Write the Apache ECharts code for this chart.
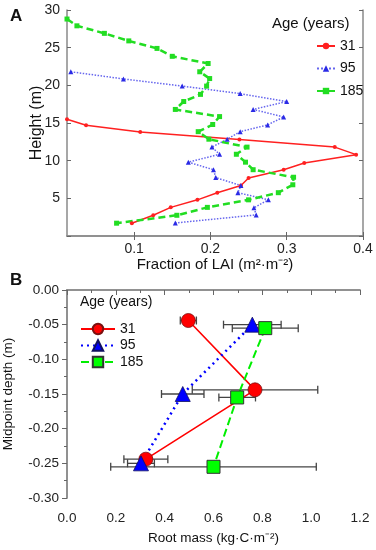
<!DOCTYPE html>
<html><head><meta charset="utf-8">
<script src="https://cdn.jsdelivr.net/npm/echarts@6/dist/echarts.min.js"></script>
<style>html,body{margin:0;padding:0;background:#fff}#c{width:376px;height:550px}</style>
</head><body><div id="c"></div>
<script>
// Panel A: LAI fraction profiles
const heights31 = [15.5,14.7,13.8,12.8,11.8,10.8,9.7,8.8,7.7,6.7,5.75,4.8,3.8,2.75,1.7];
const lai31 = [0.012,0.037,0.108,0.238,0.363,0.391,0.323,0.296,0.250,0.240,0.209,0.183,0.148,0.125,0.097];
const heights95 = [21.8,20.85,19.9,18.9,17.85,16.8,15.8,14.75,13.85,12.85,11.8,10.85,9.8,8.8,7.75,6.7,5.75,4.8,3.75,2.8,1.73];
const lai95 = [0.017,0.086,0.163,0.239,0.300,0.256,0.296,0.275,0.239,0.222,0.202,0.212,0.171,0.204,0.207,0.240,0.236,0.276,0.257,0.260,0.154];
const heights185 = [28.8,27.9,26.9,25.9,24.9,23.85,22.9,21.8,20.9,19.9,18.8,17.85,16.8,15.85,14.8,13.85,12.85,11.8,10.85,9.8,8.8,7.8,6.8,5.75,4.8,3.8,2.75,1.7];
const lai185 = [0.012,0.025,0.061,0.093,0.130,0.150,0.197,0.186,0.199,0.195,0.187,0.165,0.154,0.212,0.203,0.184,0.198,0.248,0.234,0.246,0.256,0.309,0.308,0.289,0.250,0.196,0.156,0.077];
const ticksA_x = [0.1,0.2,0.3,0.4];

// Panel B: root mass by depth
const depth31 = [-0.044,-0.144,-0.244];
const mass31 = [0.497,0.770,0.323];
const err31 = [0.033,0.257,0.090];
const depth95 = [-0.05,-0.15,-0.25];
const mass95 = [0.759,0.474,0.303];
const err95 = [0.118,0.087,0.055];
const depth185 = [-0.055,-0.155,-0.255];
const mass185 = [0.812,0.697,0.600];
const err185 = [0.135,0.075,0.421];

const ages = ['31','95','185'];

const zip = (xs, ys) => xs.map((x,i)=>[x, ys[i]]);
const errData = (m, d, e) => m.map((v,i)=>[v - e[i], v + e[i], d[i]]);

const FONT = 'Liberation Sans, Arial, sans-serif';
const frame = {lineStyle:{color:'#8a8a8a', width:1.5}};

const chart = echarts.init(document.getElementById('c'));

function errRender(params, api){
  const lo = api.coord([api.value(0), api.value(2)]);
  const hi = api.coord([api.value(1), api.value(2)]);
  const h = 4;
  const st = {stroke:'#444', lineWidth:1.3};
  return {type:'group', children:[
    {type:'line', shape:{x1:lo[0], y1:lo[1], x2:hi[0], y2:hi[1]}, style:st},
    {type:'line', shape:{x1:lo[0], y1:lo[1]-h, x2:lo[0], y2:lo[1]+h}, style:st},
    {type:'line', shape:{x1:hi[0], y1:hi[1]-h, x2:hi[0], y2:hi[1]+h}, style:st}
  ]};
}

const option = {
  animation:false,
  textStyle:{fontFamily:FONT},
  grid:[
    {left:67, top:10, width:296, height:226, outerBoundsMode:'none', containLabel:false},
    {left:67, top:290, width:293, height:208, outerBoundsMode:'none', containLabel:false}
  ],
  xAxis:[
    {gridIndex:0, type:'value', min:0.012, max:0.4, position:'bottom',
     name:'Fraction of LAI (m²·m⁻²)', nameLocation:'middle', nameGap:21, nameMoveOverlap:false,
     nameTextStyle:{fontSize:15, color:'#111', fontFamily:FONT},
     axisLine:frame, splitLine:{show:false},
     axisTick:{inside:true, length:4, customValues:ticksA_x, lineStyle:{color:'#666'}},
     axisLabel:{customValues:ticksA_x, fontSize:14, color:'#222', margin:6, fontFamily:FONT}},
    {gridIndex:0, type:'value', min:0.012, max:0.4, position:'top',
     axisLine:frame, splitLine:{show:false},
     axisTick:{inside:true, length:4, customValues:ticksA_x, lineStyle:{color:'#666'}},
     axisLabel:{show:false}},
    {gridIndex:1, type:'value', min:0, max:1.2, interval:0.2, position:'bottom',
     name:'Root mass (kg·C·m⁻²)', nameLocation:'middle', nameGap:33, nameMoveOverlap:false,
     nameTextStyle:{fontSize:13.5, color:'#111', fontFamily:FONT},
     axisLine:frame, splitLine:{show:false},
     axisTick:{inside:false, length:5, lineStyle:{color:'#666'}},
     minorTick:{show:true, splitNumber:2, length:3, lineStyle:{color:'#666'}},
     axisLabel:{fontSize:13.5, color:'#222', margin:13, fontFamily:FONT, formatter:v=>v.toFixed(1)}},
    {gridIndex:1, type:'value', min:0, max:1.2, interval:0.2, position:'top',
     axisLine:frame, splitLine:{show:false},
     axisTick:{show:false}, axisLabel:{show:false}}
  ],
  yAxis:[
    {gridIndex:0, type:'value', min:0, max:30, interval:5, position:'left',
     name:'Height (m)', nameLocation:'middle', nameGap:22, nameMoveOverlap:false,
     nameTextStyle:{fontSize:16, color:'#111', fontFamily:FONT},
     axisLine:frame, splitLine:{show:false},
     axisTick:{inside:true, length:4, lineStyle:{color:'#666'}},
     axisLabel:{fontSize:14, color:'#222', margin:7, fontFamily:FONT, formatter:v=>v===0?'':String(v)}},
    {gridIndex:0, type:'value', min:0, max:30, interval:5, position:'right',
     axisLine:frame, splitLine:{show:false},
     axisTick:{inside:true, length:4, lineStyle:{color:'#666'}},
     axisLabel:{show:false}},
    {gridIndex:1, type:'value', min:-0.30, max:0, interval:0.05, position:'left',
     name:'Midpoint depth (m)', nameLocation:'middle', nameGap:52, nameMoveOverlap:false,
     nameTextStyle:{fontSize:13.5, color:'#111', fontFamily:FONT},
     axisLine:frame, splitLine:{show:false},
     axisTick:{inside:false, length:5, lineStyle:{color:'#666'}},
     minorTick:{show:true, splitNumber:2, length:3, lineStyle:{color:'#666'}},
     axisLabel:{fontSize:13.5, color:'#222', margin:8, fontFamily:FONT, formatter:v=>v.toFixed(2)}},
    {gridIndex:1, type:'value', min:-0.30, max:0, interval:0.05, position:'right',
     axisLine:frame, splitLine:{show:false},
     axisTick:{inside:true, length:4, lineStyle:{color:'#666'}},
     minorTick:{show:true, splitNumber:2, length:3, lineStyle:{color:'#666'}},
     axisLabel:{show:false}}
  ],
  legend:[
    {orient:'vertical', left:316, top:39, itemWidth:18, itemHeight:8, itemGap:8.5, padding:0,
     data:['a31','a95','a185'], formatter:n=>n.slice(1),
     textStyle:{fontSize:14, color:'#111', fontFamily:FONT}},
    {orient:'vertical', left:80, top:322, itemWidth:34, itemHeight:13, itemGap:2.5, padding:0,
     data:['b31','b95','b185'], formatter:n=>n.slice(1),
     textStyle:{fontSize:14, color:'#111', fontFamily:FONT}}
  ],
  graphic:[
    {type:'text', left:10, top:8, style:{text:'A', font:'bold 17px '+FONT, fill:'#111'}},
    {type:'text', left:10, top:272, style:{text:'B', font:'bold 17px '+FONT, fill:'#111'}},
    {type:'text', left:272, top:16, style:{text:'Age (years)', font:'15px '+FONT, fill:'#111'}},
    {type:'text', left:80, top:295, style:{text:'Age (years)', font:'14px '+FONT, fill:'#111'}}
  ],
  series:[
    {name:'a31', type:'line', xAxisIndex:0, yAxisIndex:0, data:zip(lai31, heights31),
     symbol:'circle', symbolSize:4, clip:true,
     lineStyle:{color:'#ff2020', width:1.5}, itemStyle:{color:'#ff2020'}},
    {name:'a95', type:'line', xAxisIndex:0, yAxisIndex:0, data:zip(lai95, heights95),
     symbol:'triangle', symbolSize:5, clip:true,
     lineStyle:{color:'#6666ee', width:1.5, type:'dotted'}, itemStyle:{color:'#2a2ae6'}},
    {name:'a185', type:'line', xAxisIndex:0, yAxisIndex:0, data:zip(lai185, heights185),
     symbol:'rect', symbolSize:5, clip:true,
     lineStyle:{color:'#22dd22', width:2.5, type:[7,4]}, itemStyle:{color:'#22dd22'}},

    {type:'custom', xAxisIndex:2, yAxisIndex:2, renderItem:errRender, data:errData(mass31, depth31, err31), z:1},
    {type:'custom', xAxisIndex:2, yAxisIndex:2, renderItem:errRender, data:errData(mass95, depth95, err95), z:1},
    {type:'custom', xAxisIndex:2, yAxisIndex:2, renderItem:errRender, data:errData(mass185, depth185, err185), z:1},

    {name:'b31', type:'line', xAxisIndex:2, yAxisIndex:2, data:zip(mass31, depth31),
     symbol:'circle', symbolSize:14, z:5,
     lineStyle:{color:'#ff0000', width:1.6}, itemStyle:{color:'#ff0000', borderColor:'#7a1010', borderWidth:0.8}},
    {name:'b95', type:'line', xAxisIndex:2, yAxisIndex:2, data:zip(mass95, depth95),
     symbol:'triangle', symbolSize:15, z:5,
     lineStyle:{color:'#0000ff', width:2.5, type:[2,4]}, itemStyle:{color:'#0000ff', borderColor:'#101060', borderWidth:0.8}},
    {name:'b185', type:'line', xAxisIndex:2, yAxisIndex:2, data:zip(mass185, depth185),
     symbol:'rect', symbolSize:13, z:5,
     lineStyle:{color:'#00ee00', width:2, type:[8,4]}, itemStyle:{color:'#00ff00', borderColor:'#333', borderWidth:1}}
  ]
};
chart.setOption(option);
</script></body></html>
